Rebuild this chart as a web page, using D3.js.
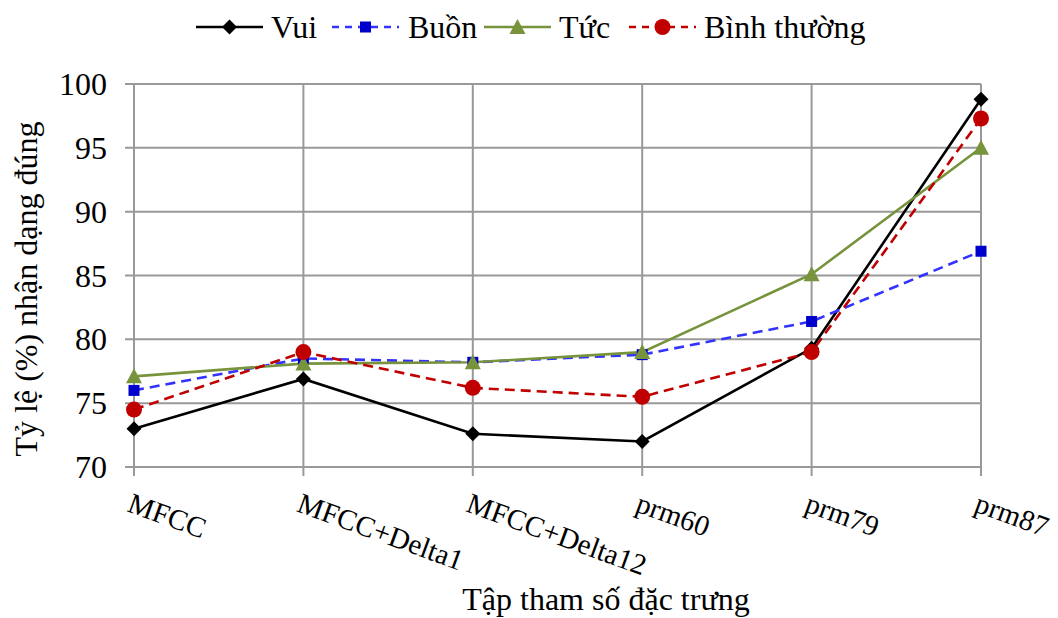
<!DOCTYPE html>
<html><head><meta charset="utf-8">
<script src="https://cdn.jsdelivr.net/npm/d3@7"></script>
<style>body{margin:0;background:#fff}svg{display:block}</style>
</head><body><svg id="c" width="1058" height="618" font-family="'Liberation Serif','Times New Roman',serif"></svg>
<script>
const categories = ["MFCC","MFCC+Delta1","MFCC+Delta12","prm60","prm79","prm87"];
const vui = [73.0, 76.9, 72.6, 72.0, 79.3, 98.8];
const buon = [76.0, 78.5, 78.2, 78.8, 81.4, 86.9];
const tuc = [77.1, 78.1, 78.2, 79.0, 85.1, 95.0];
const binhThuong = [74.5, 79.0, 76.2, 75.5, 79.0, 97.3];
const yTicks = [70, 75, 80, 85, 90, 95, 100];
const seriesNames = ["Vui","Buồn","Tức","Bình thường"];

const series = [
  {name: seriesNames[0], values: vui, line: "#000", fill: "#000", dash: null, marker: "diamond"},
  {name: seriesNames[1], values: buon, line: "#3333ff", fill: "#0000cc", dash: "10,6", marker: "square"},
  {name: seriesNames[2], values: tuc, line: "#77933c", fill: "#77933c", dash: null, marker: "triangle"},
  {name: seriesNames[3], values: binhThuong, line: "#c00000", fill: "#c00000", dash: "10,6", marker: "circle"}
];

const svg = d3.select("#c");
const x = d3.scalePoint().domain(categories).range([134, 981]);
const y = d3.scaleLinear().domain([70, 100]).range([467, 84]);
const grid = "#999";

// horizontal grid
svg.append("g").selectAll("line").data(yTicks).join("line")
  .attr("x1", 125).attr("x2", 981).attr("y1", d => y(d)).attr("y2", d => y(d))
  .attr("stroke", grid).attr("stroke-width", 2);
// vertical grid
svg.append("g").selectAll("line").data(categories).join("line")
  .attr("x1", d => x(d)).attr("x2", d => x(d)).attr("y1", 84).attr("y2", 476)
  .attr("stroke", grid).attr("stroke-width", 2);

// y tick labels
svg.append("g").selectAll("text").data(yTicks).join("text")
  .attr("x", 107).attr("y", d => y(d) + 11).attr("text-anchor", "end")
  .attr("font-size", 32).text(d => d);

// x tick labels, rotated
svg.append("g").selectAll("text").data(categories).join("text")
  .attr("transform", d => `translate(${x(d) - 8},${511}) rotate(20)`)
  .attr("font-size", 29).text(d => d);

// axis titles
svg.append("text").attr("x", 606).attr("y", 610).attr("text-anchor", "middle")
  .attr("font-size", 32).text("Tập tham số đặc trưng");
svg.append("text").attr("transform", "translate(37,289) rotate(-90)")
  .attr("text-anchor", "middle").attr("font-size", 32).text("Tỷ lệ (%) nhận dạng đúng");

function marker(g, type, color) {
  if (type === "diamond") g.append("path").attr("d", "M0,-7.5L7.5,0L0,7.5L-7.5,0Z").attr("fill", color);
  else if (type === "square") g.append("rect").attr("x", -5.5).attr("y", -5.5).attr("width", 11).attr("height", 11).attr("fill", color);
  else if (type === "triangle") g.append("path").attr("d", "M0,-8L8,7L-8,7Z").attr("fill", color);
  else g.append("circle").attr("r", 8).attr("fill", color);
}

const line = d3.line().x((d, i) => x(categories[i])).y(d => y(d));
series.forEach(s => {
  svg.append("path").attr("d", line(s.values)).attr("fill", "none")
    .attr("stroke", s.line).attr("stroke-width", 2.6)
    .attr("stroke-dasharray", s.dash);
});
series.forEach(s => {
  s.values.forEach((v, i) => {
    const g = svg.append("g").attr("transform", `translate(${x(categories[i])},${y(v)})`);
    marker(g, s.marker, s.fill);
  });
});

// legend
const legendX = [196, 332, 484, 629];
const legendTextX = [271, 408, 559, 704];
const legendW = 67;
series.forEach((s, i) => {
  const lx = legendX[i], ly = 27;
  svg.append("line").attr("x1", lx).attr("x2", lx + legendW).attr("y1", ly).attr("y2", ly)
    .attr("stroke", s.line).attr("stroke-width", 2.6).attr("stroke-dasharray", s.dash ? "7,6" : null);
  const g = svg.append("g").attr("transform", `translate(${lx + legendW / 2},${ly})`);
  marker(g, s.marker, s.fill);
  svg.append("text").attr("x", legendTextX[i]).attr("y", 38).attr("font-size", 32).text(s.name);
});
</script></body></html>
